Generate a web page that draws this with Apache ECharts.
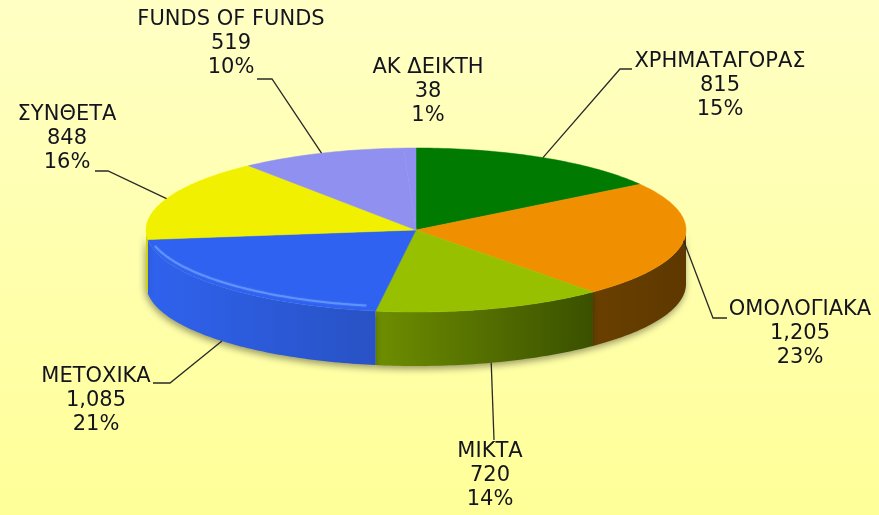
<!DOCTYPE html>
<html><head><meta charset="utf-8">
<script src="https://cdn.jsdelivr.net/npm/echarts@6/dist/echarts.min.js"></script>
<style>html,body{margin:0;padding:0;background:#FFFFC0;}#main{width:879px;height:515px;}</style>
</head><body><div id="main"></div>
<script>
// ---- data ----
const categories = ['ΧΡΗΜΑΤΑΓΟΡΑΣ', 'ΟΜΟΛΟΓΙΑΚΑ', 'ΜΙΚΤΑ', 'ΜΕΤΟΧΙΚΑ', 'ΣΥΝΘΕΤΑ', 'FUNDS OF FUNDS', 'ΑΚ ΔΕΙΚΤΗ'];
const values = [815, 1205, 720, 1085, 848, 519, 38];

// ---- styles / layout ----
const topColors = ['#007A00', '#F09000', '#96C000', '#2F62F0', '#F0F000', '#9090F0', '#9090F0'];
const wallColors = [
  ['#003C00', '#003C00'], ['#6A4000', '#5E3800'], ['#6E8E00', '#3A5000'],
  ['#2F62EE', '#2852C4'], ['#D8D800', '#D0D000'], ['#7070C0', '#7070C0'], ['#7070C0', '#7070C0']
];
const rimColors = [null, null, null, 'rgba(110,160,255,0.7)', null, null, null];
// label block: center x, top y, leader elbow & end (null = no leader)
const labelLayout = [
  { x: 720, y: 50, elbow: [620, 69], end: [632, 69] },
  { x: 800, y: 298, elbow: [713, 318], end: [727, 318] },
  { x: 490, y: 440, elbow: [494, 440], end: [494, 440] },
  { x: 96, y: 365, elbow: [170, 383], end: [153, 383] },
  { x: 67, y: 103, elbow: [108, 171], end: [95, 171] },
  { x: 231, y: 8, elbow: [272, 79], end: [257, 79] },
  { x: 428, y: 56, elbow: null, end: null }
];
const CX = 416, CY = 230, RX = 270, RY = 82, DEPTH = 54;

// percentages with largest remainder rounding
function percents(vals) {
  const total = vals.reduce((a, b) => a + b, 0);
  const raw = vals.map(v => v / total * 100);
  const fl = raw.map(Math.floor);
  let left = 100 - fl.reduce((a, b) => a + b, 0);
  const order = raw.map((r, i) => [r - fl[i], i]).sort((a, b) => b[0] - a[0]);
  for (let k = 0; k < left; k++) fl[order[k][1]]++;
  return fl;
}
const pcts = percents(values);
const total = values.reduce((a, b) => a + b, 0);
const startAngles = [];
(function () { let acc = 0; values.forEach(v => { startAngles.push(acc / total * 360); acc += v; }); })();

function pt(deg, dy) {
  const r = deg * Math.PI / 180;
  return [CX + RX * Math.sin(r), CY - RY * Math.cos(r) + (dy || 0)];
}
function arc(a0, a1, dy) {
  const pts = [];
  const n = Math.max(2, Math.ceil((a1 - a0) / 1));
  for (let k = 0; k <= n; k++) pts.push(pt(a0 + (a1 - a0) * k / n, dy));
  return pts;
}

function renderItem(params, api) {
  const i = params.dataIndex;
  const v = api.value(0);
  const a0 = startAngles[i];
  const a1 = a0 + v / total * 360;
  const children = [];
  // front wall
  const w0 = Math.max(a0, 90), w1 = Math.min(a1, 270);
  if (w1 > w0) {
    const topPts = arc(w0, w1, 0);
    const botPts = arc(w0, w1, DEPTH).reverse();
    children.push({
      type: 'polygon', z2: 1,
      shape: { points: topPts.concat(botPts) },
      style: {
        fill: new echarts.graphic.LinearGradient(1, 0, 0, 0, [
          { offset: 0, color: wallColors[i][1] }, { offset: 1, color: wallColors[i][0] }
        ]),
        shadowBlur: 7, shadowColor: 'rgba(0,0,0,0.4)', shadowOffsetY: 3, shadowOffsetX: -1
      }
    });
    if (rimColors[i]) {
      children.push({
        type: 'polyline', z2: 6,
        shape: { points: arc(w0 + 2, w1 - 8, -5) },
        style: { stroke: rimColors[i], lineWidth: 2, fill: null, shadowBlur: 2, shadowColor: rimColors[i] }
      });
    }
  }
  // top face
  children.push({
    type: 'polygon', z2: 5,
    shape: { points: [[CX, CY]].concat(arc(a0, a1, 0)) },
    style: { fill: topColors[i], stroke: topColors[i], lineWidth: 0.5 }
  });
  // leader line
  const mid = (a0 + a1) / 2;
  const L = labelLayout[i];
  if (L.elbow) {
    const anchor = (mid > 120 && mid < 240) ? pt(mid, DEPTH) : pt(mid, 0);
    children.push({
      type: 'polyline', z2: 6,
      shape: { points: [anchor, L.elbow, L.end] },
      style: { stroke: '#2a2a2a', lineWidth: 1.3, fill: null }
    });
  }
  // label text
  children.push({
    type: 'text', z2: 7,
    style: {
      text: categories[i] + '\n' + v.toLocaleString('en-US') + '\n' + pcts[i] + '%',
      x: L.x, y: L.y, align: 'center', verticalAlign: 'top',
      font: '21px "DejaVu Sans", Verdana, sans-serif', lineHeight: 24, fill: '#14141e'
    }
  });
  return { type: 'group', children: children };
}

const chart = echarts.init(document.getElementById('main'), null, { renderer: 'canvas' });
chart.setOption({
  animation: false,
  backgroundColor: new echarts.graphic.LinearGradient(0, 0, 0, 1, [
    { offset: 0, color: '#FFFFC4' }, { offset: 1, color: '#FFFF98' }
  ]),
  series: [{
    type: 'custom',
    coordinateSystem: 'none',
    renderItem: renderItem,
    data: values.map(v => [v])
  }]
});
</script>
</body></html>
